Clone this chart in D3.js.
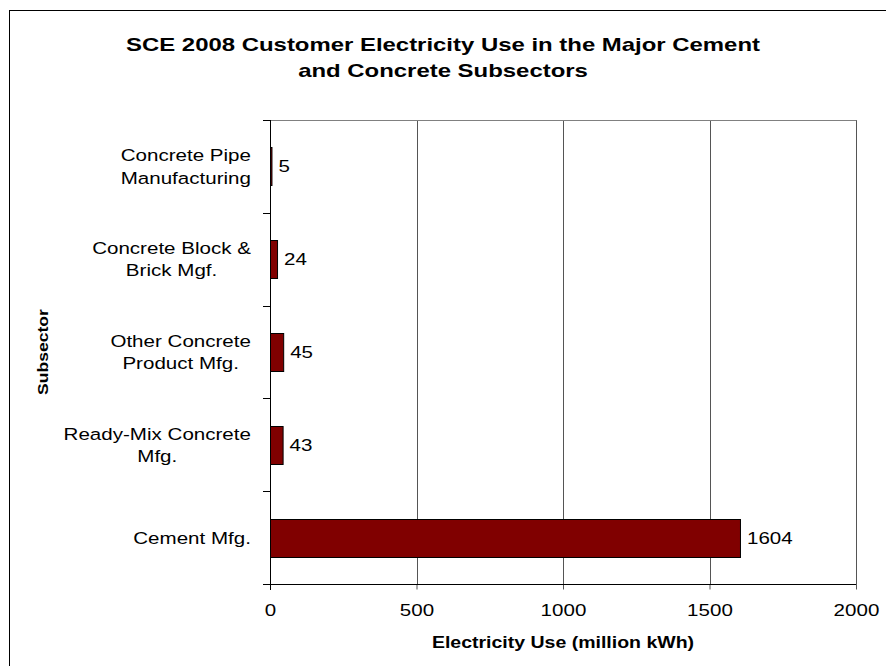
<!DOCTYPE html>
<html>
<head>
<meta charset="utf-8">
<script src="https://cdn.jsdelivr.net/npm/d3@7"></script>
<style>
    body { margin: 0; background: #ffffff; }
    svg { display: block; font-family: "Liberation Sans", Arial, sans-serif; }
</style>
</head>
<body>
<script>
// categories from top to bottom, each label split into its lines
var categories = ["Concrete Pipe Manufacturing", "Concrete Block & Brick Mgf.", "Other Concrete Product Mfg.", "Ready-Mix Concrete Mfg.", "Cement Mfg."];
var categoryLines = [["Concrete Pipe", "Manufacturing"], ["Concrete Block &", "Brick Mgf."], ["Other Concrete", "Product Mfg."], ["Ready-Mix Concrete", "Mfg."], ["Cement Mfg."]];
var values = [5, 24, 45, 43, 1604];
var xTicks = [0, 500, 1000, 1500, 2000];
var titleLines = ["SCE 2008 Customer Electricity Use in the Major Cement", "and Concrete Subsectors"];
var xTitle = "Electricity Use (million kWh)";
var yTitle = "Subsector";

// 文字を横に伸ばす (元画像のフォントは横長)
var SX = 1.21;
var SX_TITLE = 1.33;

function drawChart() {
    var W = 886, H = 666;
    var plot = { left: 270, right: 856, top: 120, bottom: 584 };

    var svg = d3.select("body").append("svg")
        .attr("width", W)
        .attr("height", H);

    // 外枠
    svg.append("rect")
        .attr("x", 9.5).attr("y", 10.5)
        .attr("width", 900).attr("height", 700)
        .style("fill", "none")
        .style("stroke", "#000")
        .style("stroke-width", 1);

    // タイトル
    svg.append("g").selectAll("text")
        .data(titleLines)
        .enter().append("text")
        .attr("transform", function(d, i) { return "translate(" + (W / 2) + "," + (50.7 + i * 26.6) + ") scale(" + SX_TITLE + ",1)"; })
        .attr("text-anchor", "middle")
        .style("font-size", "18px")
        .style("font-weight", "bold")
        .text(function(d) { return d; });

    var x = d3.scaleLinear()
        .domain([0, 2000])
        .range([plot.left, plot.right]);

    var y = d3.scaleBand()
        .domain(categories)
        .range([plot.top, plot.bottom])
        .paddingInner(0.59)
        .paddingOuter(0.295);

    // グリッド線 (縦)
    svg.append("g").selectAll("line")
        .data(xTicks.slice(1))
        .enter().append("line")
        .attr("x1", function(d) { return Math.round(x(d)) + 0.5; })
        .attr("x2", function(d) { return Math.round(x(d)) + 0.5; })
        .attr("y1", plot.top)
        .attr("y2", plot.bottom)
        .style("stroke", "#555")
        .style("stroke-width", 1);

    // プロット上端
    svg.append("line")
        .attr("x1", plot.left).attr("x2", plot.right + 0.5)
        .attr("y1", plot.top + 0.5).attr("y2", plot.top + 0.5)
        .style("stroke", "#808080");

    // 棒
    svg.append("g").selectAll("rect")
        .data(values)
        .enter().append("rect")
        .attr("x", x(0) + 0.5)
        .attr("y", function(d, i) { return Math.round(y(categories[i])) + 0.5; })
        .attr("width", function(d) { return Math.max(0, x(d) - x(0)); })
        .attr("height", Math.round(y.bandwidth()))
        .style("fill", "#800000")
        .style("stroke", "#000")
        .style("stroke-width", 1);

    // 値ラベル
    svg.append("g").selectAll("text")
        .data(values)
        .enter().append("text")
        .attr("transform", function(d, i) {
            return "translate(" + (x(d) + 7) + "," + (y(categories[i]) + y.bandwidth() / 2) + ") scale(" + SX + ",1)";
        })
        .attr("dy", "0.35em")
        .style("font-size", "17px")
        .text(function(d) { return d; });

    // x軸
    var xAxis = d3.axisBottom(x)
        .tickValues(xTicks)
        .tickSize(5)
        .tickPadding(14.5)
        .tickFormat(d3.format("d"));

    var gx = svg.append("g")
        .attr("transform", "translate(0," + (plot.bottom + 0.5) + ")")
        .call(xAxis);
    gx.select(".domain").remove();
    gx.append("line")
        .attr("x1", plot.left - 7).attr("x2", plot.right + 0.5)
        .style("stroke", "#000");
    gx.selectAll(".tick line").style("stroke", "#555");
    gx.selectAll(".tick text")
        .attr("transform", "scale(" + SX + ",1)")
        .style("font-size", "17px")
        .style("font-family", "\"Liberation Sans\", Arial, sans-serif")
        .style("fill", "#000");

    // y軸 (区切りの目盛り)
    var bounds = [];
    var step = (plot.bottom - plot.top) / categories.length;
    for (var i = 0; i <= categories.length; i++) bounds.push(plot.top + i * step);
    svg.append("g").selectAll("line")
        .data(bounds)
        .enter().append("line")
        .attr("x1", plot.left - 7)
        .attr("x2", plot.left)
        .attr("y1", function(d) { return Math.round(d) + 0.5; })
        .attr("y2", function(d) { return Math.round(d) + 0.5; })
        .style("stroke", "#000");
    svg.append("line")
        .attr("x1", plot.left + 0.5).attr("x2", plot.left + 0.5)
        .attr("y1", plot.top).attr("y2", plot.bottom + 6)
        .style("stroke", "#000");

    // カテゴリラベル (右揃えブロック、行は中央揃え)
    var labelRight = 251;
    var lineH = 22.4;
    var labels = svg.append("g").selectAll("g")
        .data(categoryLines)
        .enter().append("g");
    labels.each(function(lines, i) {
        var g = d3.select(this);
        var cy = y(categories[i]) + y.bandwidth() / 2;
        var texts = g.selectAll("text")
            .data(lines)
            .enter().append("text")
            .attr("dy", "0.35em")
            .attr("text-anchor", "middle")
            .style("font-size", "17px")
            .text(function(d) { return d; });
        var maxW = 0;
        texts.each(function() { maxW = Math.max(maxW, this.getComputedTextLength()); });
        var cx = labelRight - maxW * SX / 2;
        texts.attr("transform", function(d, j) {
            return "translate(" + cx + "," + (cy + (j - (lines.length - 1) / 2) * lineH) + ") scale(" + SX + ",1)";
        });
    });

    // 軸タイトル
    svg.append("text")
        .attr("transform", "translate(" + ((plot.left + plot.right) / 2) + ",642) scale(1.22,1)")
        .attr("dy", "0.35em")
        .attr("text-anchor", "middle")
        .style("font-size", "16px")
        .style("font-weight", "bold")
        .text(xTitle);

    svg.append("text")
        .attr("transform", "translate(43," + ((plot.top + plot.bottom) / 2) + ") rotate(-90) scale(1.17,1)")
        .attr("dy", "0.35em")
        .attr("text-anchor", "middle")
        .style("font-size", "15px")
        .style("font-weight", "bold")
        .text(yTitle);
}

drawChart();
</script>
</body>
</html>
